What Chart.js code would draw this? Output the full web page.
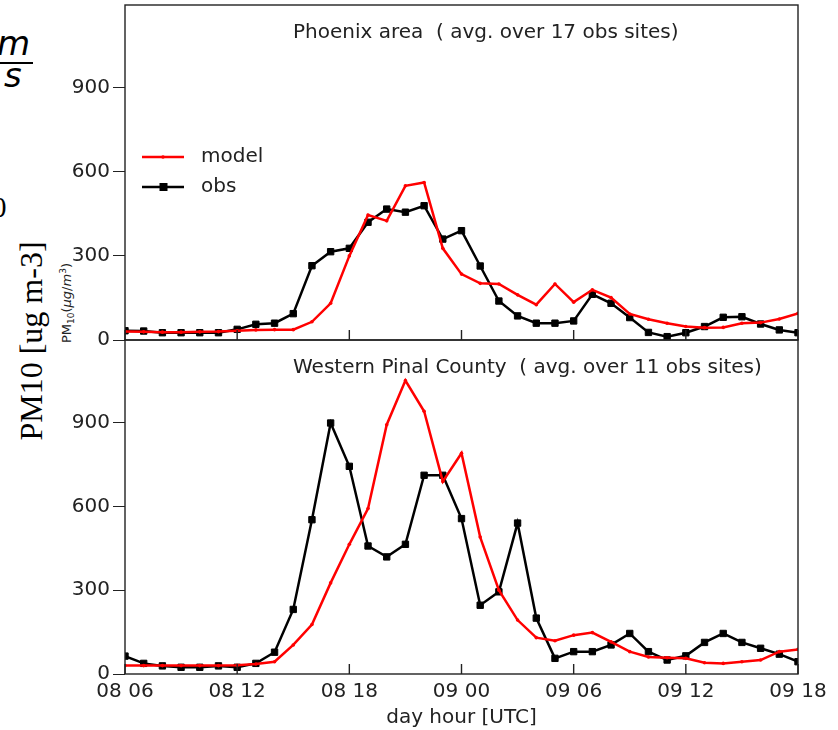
<!DOCTYPE html>
<html>
<head>
<meta charset="utf-8">
<script src="https://cdn.jsdelivr.net/npm/chart.js@4.4.1/dist/chart.umd.min.js"></script>
<style>
  body { margin: 0; background: #fff; width: 838px; height: 730px; overflow: hidden; position: relative; }
  canvas { position: absolute; left: 0; }
  .side { position: absolute; white-space: nowrap; color: #000; }
</style>
</head>
<body>
<!-- leftovers of the neighbouring panel, cut off at the left edge -->
<div class="side" style="left:-3px;top:26px;font:italic 34px/34px 'DejaVu Sans'">m</div>
<div class="side" style="left:0;top:62px;width:33px;height:2px;background:#000"></div>
<div class="side" style="left:4px;top:58px;font:italic 34px/34px 'DejaVu Sans'">s</div>
<div class="side" style="left:-8px;top:190px;font:29px/34px 'Liberation Serif'">0</div>
<div class="side" style="left:31px;top:341px;transform:translate(-50%,-50%) rotate(-90deg);font:32px/32px 'Liberation Serif'">PM10 [ug m-3]</div>
<div class="side" style="left:67px;top:303px;transform:translate(-50%,-50%) rotate(-90deg);font:13px/16px 'DejaVu Sans';color:#222">PM<sub style="font-size:9px">10</sub>(<i>μg</i>/<i>m</i><sup style="font-size:9px">3</sup>)</div>

<canvas id="topChart" width="838" height="730" style="top:-30px;width:838px;height:730px"></canvas>
<canvas id="botChart" width="838" height="730" style="top:0;width:838px;height:730px"></canvas>

<script>
// hours since 08 00 UTC
let hours = [6, 7, 8, 9, 10, 11, 12, 13, 14, 15, 16, 17, 18, 19, 20, 21, 22, 23, 24,
             25, 26, 27, 28, 29, 30, 31, 32, 33, 34, 35, 36, 37, 38, 39, 40, 41, 42]

let phoenixModel = [30, 29, 28, 28, 29, 30, 33, 36, 37, 37, 65, 131, 300, 446, 425, 550, 562, 327, 235,
                    202, 200, 161, 126, 200, 135, 179, 151, 93, 74, 60, 48, 44, 45, 60, 62, 75, 95]
let phoenixObs   = [33, 32, 26, 26, 26, 26, 38, 56, 60, 94, 265, 315, 327, 420, 467, 456, 479, 360, 390,
                    264, 139, 86, 60, 60, 68, 163, 131, 80, 27, 12, 26, 48, 81, 83, 57, 36, 26]

let pinalModel = [30, 30, 30, 30, 30, 30, 31, 36, 44, 104, 177, 326, 464, 592, 892, 1050, 940, 689, 790,
                  490, 300, 193, 130, 119, 139, 148, 115, 80, 61, 58, 56, 40, 38, 44, 50, 80, 88]
let pinalObs   = [64, 38, 29, 24, 24, 29, 24, 38, 78, 231, 552, 898, 743, 458, 419, 464, 711, 711, 556,
                  246, 294, 540, 200, 56, 80, 80, 104, 145, 80, 50, 65, 113, 145, 113, 92, 71, 44]

let xTickVals = [6, 12, 18, 24, 30, 36, 42]
let xTickLabels = ['08 06', '08 12', '08 18', '09 00', '09 06', '09 12', '09 18']
let yTicks = [0, 300, 600, 900]

const tickFont = { family: 'DejaVu Sans', size: 20 }

function toPoints(vals) {
  return vals.map((v, i) => ({ x: hours[i], y: v }))
}

function makeSets(model, obs) {
  return [
    {
      label: 'model',
      data: toPoints(model),
      borderColor: '#ff0000',
      backgroundColor: '#ff0000',
      borderWidth: 2.5,
      pointStyle: 'circle',
      pointRadius: 1.8,
      pointBorderWidth: 0,
      tension: 0
    },
    {
      label: 'obs',
      data: toPoints(obs),
      borderColor: '#000000',
      backgroundColor: '#000000',
      borderWidth: 2.5,
      pointStyle: 'rect',
      pointRadius: 4.5,
      pointBorderWidth: 1,
      tension: 0
    }
  ]
}

// box round the axes, inward x ticks, title text and legend inside the panel
const panelFrame = {
  id: 'panelFrame',
  afterDatasetsDraw(chart, args, opts) {
    const ctx = chart.ctx
    const a = chart.chartArea
    const x = chart.scales.x
    ctx.save()
    ctx.strokeStyle = '#222'
    ctx.lineWidth = 1.4
    ctx.strokeRect(a.left, a.top, a.right - a.left, a.bottom - a.top)
    ctx.beginPath()
    xTickVals.forEach(v => {
      const px = x.getPixelForValue(v)
      ctx.moveTo(px, a.bottom)
      ctx.lineTo(px, a.bottom - 10)
    })
    ctx.stroke()

    ctx.fillStyle = '#222'
    ctx.font = '20px "DejaVu Sans"'
    ctx.textAlign = 'left'
    ctx.textBaseline = 'middle'
    ctx.fillText(opts.title, 293, a.top + opts.titleDy)

    if (opts.legend) {
      chart.data.datasets.forEach((ds, i) => {
        const ly = a.top + 152 + i * 30
        ctx.strokeStyle = ds.borderColor
        ctx.fillStyle = ds.borderColor
        ctx.lineWidth = 2.5
        ctx.beginPath()
        ctx.moveTo(a.left + 17, ly)
        ctx.lineTo(a.left + 59, ly)
        ctx.stroke()
        if (ds.pointStyle === 'rect') {
          ctx.fillRect(a.left + 34.5, ly - 4, 8, 8)
        } else {
          ctx.beginPath()
          ctx.arc(a.left + 38, ly, 1.8, 0, Math.PI * 2)
          ctx.fill()
        }
        ctx.fillStyle = '#222'
        ctx.fillText(ds.label, a.left + 76, ly)
      })
    }
    ctx.restore()
  }
}

function makeChart(id, model, obs, showX, padding, title, titleDy, legend) {
  return new Chart(document.getElementById(id), {
    type: 'line',
    data: { datasets: makeSets(model, obs) },
    plugins: [panelFrame],
    options: {
      responsive: false,
      animation: false,
      layout: { padding: padding },
      plugins: {
        legend: { display: false },
        tooltip: { enabled: false },
        panelFrame: { title: title, titleDy: titleDy, legend: legend }
      },
      scales: {
        x: {
          type: 'linear',
          display: showX,
          min: 6,
          max: 42,
          afterBuildTicks: s => { s.ticks = xTickVals.map(v => ({ value: v })) },
          afterFit: s => { s.height = 56 },
          grid: { drawOnChartArea: false, drawTicks: false },
          border: { display: false },
          ticks: {
            color: '#222',
            font: tickFont,
            padding: 6,
            maxRotation: 0,
            callback: (v, i) => xTickLabels[i]
          },
          title: {
            display: true,
            text: 'day hour [UTC]',
            color: '#222',
            font: tickFont,
            padding: { top: 0, bottom: 0 }
          }
        },
        y: {
          min: 0,
          max: 1195,
          afterBuildTicks: s => { s.ticks = yTicks.map(v => ({ value: v })) },
          afterFit: s => { s.width = 60 },
          grid: { drawOnChartArea: false, drawTicks: true, tickLength: 12, color: '#222' },
          border: { display: false },
          ticks: { color: '#222', font: tickFont, padding: 3 }
        }
      }
    }
  })
}

// top canvas sits 30px higher so its plot box runs from y=5 to y=340 on the page
makeChart('topChart', phoenixModel, phoenixObs, false,
  { left: 65, right: 40, top: 35, bottom: 304 },
  'Phoenix area  ( avg. over 17 obs sites)', 28, true)

makeChart('botChart', pinalModel, pinalObs, true,
  { left: 65, right: 40, top: 340, bottom: 0 },
  'Western Pinal County  ( avg. over 11 obs sites)', 28, false)
</script>
</body>
</html>
